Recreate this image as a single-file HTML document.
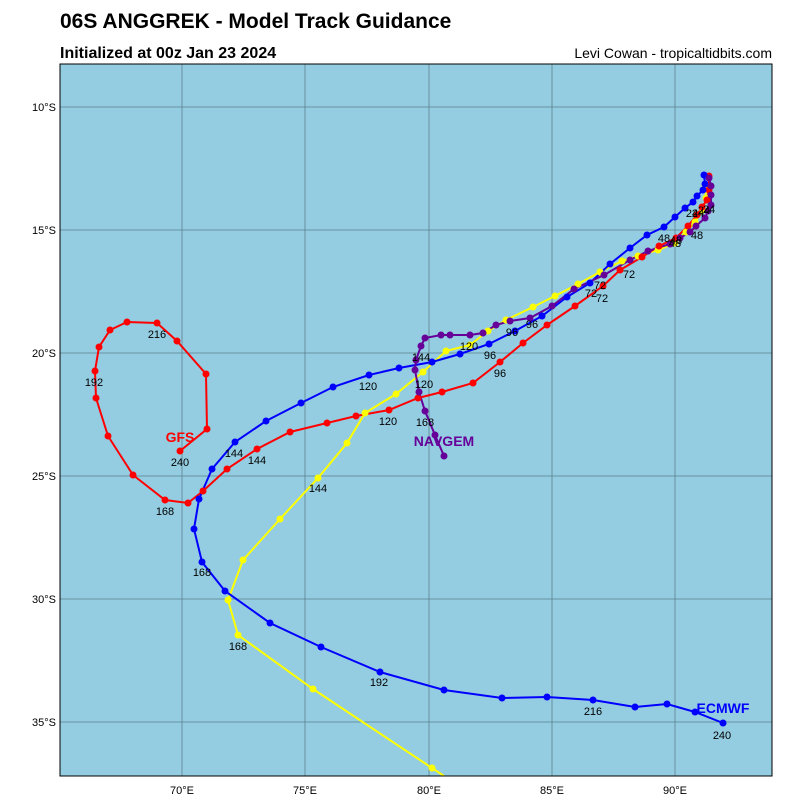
<!DOCTYPE html><html><head><style>body{margin:0;background:#fff}svg text{font-family:"Liberation Sans",sans-serif}</style></head><body>
<svg width="800" height="800" xmlns="http://www.w3.org/2000/svg">
<text x="60" y="28" font-size="21" font-weight="bold">06S ANGGREK - Model Track Guidance</text>
<text x="60" y="58" font-size="16" font-weight="bold">Initialized at 00z Jan 23 2024</text>
<text x="772" y="58" font-size="14" text-anchor="end">Levi Cowan - tropicaltidbits.com</text>
<defs><clipPath id="c"><rect x="60" y="64" width="712" height="712"/></clipPath></defs>
<rect x="60" y="64" width="712" height="712" fill="#94cde2"/>
<g stroke="#5d7f8c" stroke-width="0.8">
<line x1="182" y1="64" x2="182" y2="776"/><line x1="305" y1="64" x2="305" y2="776"/><line x1="429" y1="64" x2="429" y2="776"/><line x1="552" y1="64" x2="552" y2="776"/><line x1="675" y1="64" x2="675" y2="776"/>
<line x1="60" y1="107" x2="772" y2="107"/><line x1="60" y1="230" x2="772" y2="230"/><line x1="60" y1="353" x2="772" y2="353"/><line x1="60" y1="476" x2="772" y2="476"/><line x1="60" y1="599" x2="772" y2="599"/><line x1="60" y1="722" x2="772" y2="722"/>
</g>
<g font-size="11" text-anchor="middle"><text x="182" y="794">70°E</text><text x="305" y="794">75°E</text><text x="429" y="794">80°E</text><text x="552" y="794">85°E</text><text x="675" y="794">90°E</text></g>
<g font-size="11" text-anchor="end"><text x="56" y="111">10°S</text><text x="56" y="234">15°S</text><text x="56" y="357">20°S</text><text x="56" y="480">25°S</text><text x="56" y="603">30°S</text><text x="56" y="726">35°S</text></g>
<g clip-path="url(#c)" fill="none" stroke-width="2">
<polyline id="y" stroke="#ffff00" points="705,185 706,198 703,210 695,222 686,232 675,243 658,250 638,256 622,261 600,272 578,284 555,296 533,307 506,320 488,331 470,345 446,351 423,372 396,394 365,413 347,443 318,478 280,519 243,560 228,600 238,635 313,689 432,768 450,780"/>
<polyline stroke="#ff0000" points="709,176 709,190 707,200 702,207 697,215 688,226 676,238 659,246 642,257 620,270 603,286 575,306 547,325 523,343 500,362 473,383 442,392 418,398 389,410 356,416 327,423 290,432 257,449 227,469 203,491 188,503 165,500 133,475 108,436 96,398 95,371 99,347 110,330 127,322 157,323 177,341 206,374 207,429 180,451"/>
<polyline stroke="#0000ff" points="704,175 705,184 703,190 697,196 693,202 685,208 675,217 664,227 647,235 630,248 610,264 590,283 567,297 542,316 515,331 489,344 460,354 432,362 399,368 369,375 333,387 301,403 266,421 235,442 212,469 199,499 194,529 202,562 225,591 270,623 321,647 380,672 444,690 502,698 547,697 593,700 635,707 667,704 695,712 723,723"/>
<polyline stroke="#660099" points="709,178 711,186 711,195 711,205 708,211 705,218 696,226 690,232 680,238 670,244 648,251 630,260 604,275 574,289 552,306 530,318 510,321 496,325 483,333 470,335 450,335 441,335 425,338 421,346 416,360 415,370 419,392 425,411 435,435 444,456"/>
</g>
<script>
document.querySelectorAll('polyline').forEach(p=>{const c=p.getAttribute('stroke');p.getAttribute('points').trim().split(/\s+/).forEach(s=>{const[a,b]=s.split(',');if(+b>776)return;const e=document.createElementNS('http://www.w3.org/2000/svg','circle');e.setAttribute('cx',a);e.setAttribute('cy',b);e.setAttribute('r',3.5);e.setAttribute('fill',c);p.parentNode.appendChild(e);});});
</script>
<g font-size="11" text-anchor="middle">
<text x="692" y="217">24</text><text x="698" y="217">24</text><text x="704" y="214">24</text><text x="709" y="213">24</text>
<text x="664" y="242">48</text><text x="676" y="244">48</text><text x="675" y="247">48</text><text x="697" y="239">48</text>
<text x="600" y="289">72</text><text x="591" y="297">72</text><text x="602" y="302">72</text><text x="629" y="278">72</text>
<text x="490" y="359">96</text><text x="500" y="377">96</text><text x="512" y="336">96</text><text x="532" y="328">96</text>
<text x="469" y="350">120</text><text x="368" y="390">120</text><text x="424" y="388">120</text><text x="388" y="425">120</text>
<text x="421" y="361">144</text><text x="234" y="457">144</text><text x="257" y="464">144</text><text x="318" y="492">144</text>
<text x="202" y="576">168</text><text x="238" y="650">168</text><text x="425" y="426">168</text><text x="165" y="515">168</text>
<text x="379" y="686">192</text><text x="94" y="386">192</text>
<text x="593" y="715">216</text><text x="157" y="338">216</text>
<text x="722" y="739">240</text><text x="180" y="466">240</text>
</g>
<g font-size="14" font-weight="bold" text-anchor="middle">
<text x="180" y="442" fill="#ff0000">GFS</text><text x="444" y="446" fill="#660099">NAVGEM</text><text x="723" y="713" fill="#0000ff">ECMWF</text>
</g>
<rect x="60" y="64" width="712" height="712" fill="none" stroke="#000" stroke-width="1"/>
</svg></body></html>
